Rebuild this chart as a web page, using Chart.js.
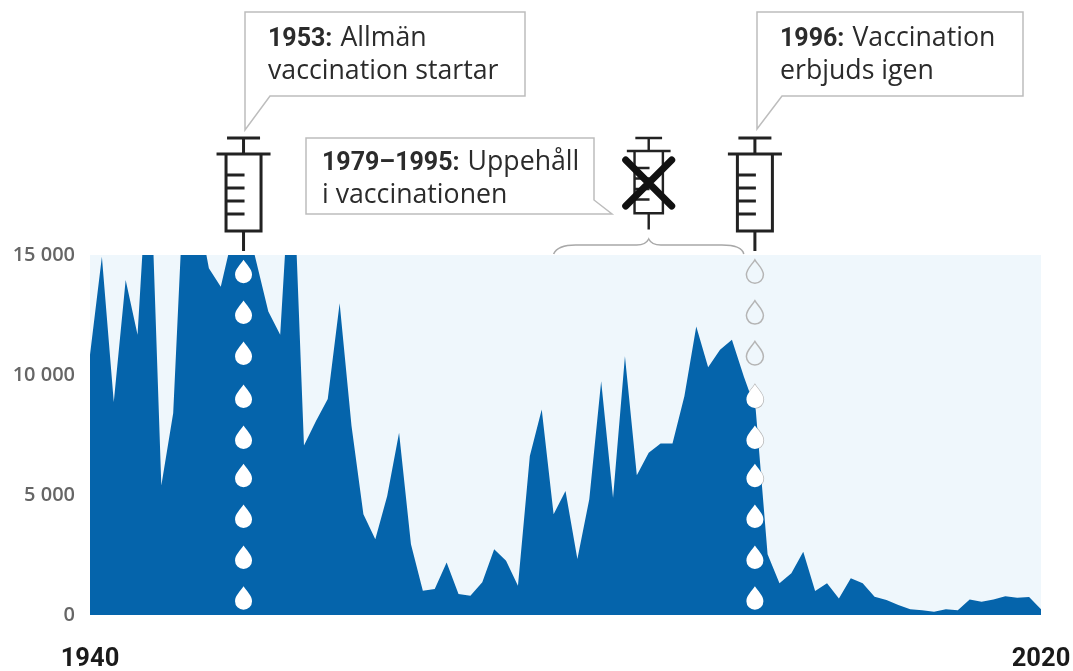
<!DOCTYPE html>
<html lang="sv">
<head>
<meta charset="utf-8">
<title>Kikhosta</title>
<script src="https://cdn.jsdelivr.net/npm/chart.js@4"></script>
<style>
  html, body { margin: 0; padding: 0; background: #fff; }
  canvas { display: block; filter: blur(0.5px); }
</style>
</head>
<body>
<canvas id="cases-chart" width="1073" height="671"></canvas>
<script>
// Data
const years = [
  1940, 1941, 1942, 1943, 1944, 1945, 1946, 1947, 1948, 1949,
  1950, 1951, 1952, 1953, 1954, 1955, 1956, 1957, 1958, 1959,
  1960, 1961, 1962, 1963, 1964, 1965, 1966, 1967, 1968, 1969,
  1970, 1971, 1972, 1973, 1974, 1975, 1976, 1977, 1978, 1979,
  1980, 1981, 1982, 1983, 1984, 1985, 1986, 1987, 1988, 1989,
  1990, 1991, 1992, 1993, 1994, 1995, 1996, 1997, 1998, 1999,
  2000, 2001, 2002, 2003, 2004, 2005, 2006, 2007, 2008, 2009,
  2010, 2011, 2012, 2013, 2014, 2015, 2016, 2017, 2018, 2019, 2020
];
const cases = [
  10840, 14930, 8880, 13960, 11680, 20000, 5400, 8420, 19000, 17100,
  14450, 13680, 15800, 16700, 14700, 12650, 11680, 20000, 7060, 8070,
  9000, 12990, 7870, 4200, 3160, 4960, 7590, 2950, 1010, 1080,
  2190, 870, 800, 1360, 2740, 2260, 1220, 6620, 8560, 4200,
  5170, 2330, 4820, 9740, 4890, 10780, 5820, 6760, 7150, 7150,
  9110, 12020, 10320, 11050, 11470, 9940, 8560, 2530, 1320, 1740,
  2640, 1000, 1320, 690, 1530, 1320, 760, 625, 420, 240,
  195, 140, 240, 195, 650, 555, 650, 780, 720, 750, 240
];
const yTicks = [0, 5000, 10000, 15000];
const xTicks = [1940, 2020];
const dropLevels = [14300, 12600, 10900, 9100, 7400, 5800, 4100, 2400, 700];
const startYear = 1953;
const pauseYears = [1979, 1995];
const restartYear = 1996;

const FONT = 'Roboto, "Noto Sans", sans-serif';
const TEXT_FONT = '"Open Sans", Roboto, sans-serif';
const BLUE = '#0564ab';
const INK = '#222';
const LINE = '#bdbdbd';

// Draws one syringe, top = y of the plunger bar, s = scale
function drawSyringe(ctx, cx, top, s) {
  ctx.save();
  ctx.translate(cx, top);
  ctx.scale(s, s);
  ctx.strokeStyle = INK;
  ctx.lineWidth = 3;
  ctx.beginPath();
  ctx.moveTo(-16.5, 0); ctx.lineTo(16.5, 0);
  ctx.moveTo(0, 0); ctx.lineTo(0, 16);
  ctx.moveTo(-27, 16); ctx.lineTo(27, 16);
  ctx.moveTo(-17.5, 16); ctx.lineTo(-17.5, 93); ctx.lineTo(17.5, 93); ctx.lineTo(17.5, 16);
  ctx.moveTo(0, 93); ctx.lineTo(0, 113);
  [37, 50, 63, 76].forEach(t => {
    ctx.moveTo(-17.5, t); ctx.lineTo(1, t);
  });
  ctx.stroke();
  ctx.restore();
}

function dropPath(ctx, x, y) {
  ctx.beginPath();
  ctx.moveTo(x, y - 12);
  ctx.bezierCurveTo(x + 3, y - 7, x + 8.5, y - 3, x + 8.5, y + 3);
  ctx.arc(x, y + 3, 8.5, 0, Math.PI);
  ctx.bezierCurveTo(x - 8.5, y - 3, x - 3, y - 7, x, y - 12);
  ctx.closePath();
}

// Callout box outline, points are the polygon corners
function drawOutline(ctx, pts) {
  ctx.strokeStyle = LINE;
  ctx.lineWidth = 1.5;
  ctx.beginPath();
  pts.forEach((p, i) => i ? ctx.lineTo(p[0], p[1]) : ctx.moveTo(p[0], p[1]));
  ctx.closePath();
  ctx.stroke();
}

function drawLabel(ctx, x, y, boldPart, rest) {
  ctx.fillStyle = '#2b2b2b';
  ctx.textBaseline = 'alphabetic';
  ctx.textAlign = 'left';
  ctx.font = 'bold 25px ' + FONT;
  ctx.fillText(boldPart, x, y);
  const w = boldPart ? ctx.measureText(boldPart).width + 8 : 0;
  ctx.font = '26.7px ' + TEXT_FONT;
  ctx.fillText(rest, x + w, y);
}

const annotations = {
  id: 'annotations',
  beforeDraw(chart) {
    const { ctx, chartArea: a } = chart;
    ctx.save();
    ctx.fillStyle = '#eff7fc';
    ctx.fillRect(a.left, a.top, a.right - a.left, a.bottom - a.top);
    ctx.restore();
  },
  // Outlined drops sit under the area so that only the part above it shows
  beforeDatasetsDraw(chart) {
    const { ctx, scales: { x, y } } = chart;
    ctx.save();
    ctx.strokeStyle = '#b5b5b5';
    ctx.lineWidth = 1.5;
    dropLevels.forEach(v => {
      dropPath(ctx, x.getPixelForValue(restartYear) - 0.8, y.getPixelForValue(v));
      ctx.stroke();
    });
    ctx.restore();
  },
  afterDatasetsDraw(chart) {
    const { ctx, chartArea: a, scales: { x, y } } = chart;
    const startX = x.getPixelForValue(startYear) - 1;
    const restartX = x.getPixelForValue(restartYear) - 0.8;
    const pauseX = x.getPixelForValue((pauseYears[0] + pauseYears[1]) / 2);
    ctx.save();

    // White drops
    ctx.fillStyle = '#fff';
    dropLevels.forEach((v, i) => {
      dropPath(ctx, startX, y.getPixelForValue(v));
      ctx.fill();
      if (i > 2) {
        dropPath(ctx, restartX, y.getPixelForValue(v));
        ctx.fill();
      }
    });

    drawSyringe(ctx, startX, 138, 1);
    drawSyringe(ctx, restartX, 138, 1);
    drawSyringe(ctx, pauseX, 138, 0.81);

    // Cross over the paused syringe
    ctx.strokeStyle = '#111';
    ctx.lineWidth = 7;
    ctx.lineCap = 'round';
    ctx.beginPath();
    ctx.moveTo(pauseX - 23, 160); ctx.lineTo(pauseX + 23, 206);
    ctx.moveTo(pauseX + 23, 160); ctx.lineTo(pauseX - 23, 206);
    ctx.stroke();
    ctx.lineCap = 'butt';

    // Callouts
    drawOutline(ctx, [[245, 12], [525, 12], [525, 96], [270, 96], [245, 130]]);
    drawOutline(ctx, [[757, 12], [1023, 12], [1023, 96], [782, 96], [757, 129]]);
    drawOutline(ctx, [[306, 138], [594, 138], [594, 200], [612, 214], [306, 214]]);

    drawLabel(ctx, 268, 46, '1953:', 'Allmän');
    drawLabel(ctx, 268, 79, '', 'vaccination startar');
    drawLabel(ctx, 780, 46, '1996:', 'Vaccination');
    drawLabel(ctx, 780, 79, '', 'erbjuds igen');
    drawLabel(ctx, 322, 170, '1979–1995:', 'Uppehåll');
    drawLabel(ctx, 322, 203, '', 'i vaccinationen');

    // Brace over the pause years
    const bl = x.getPixelForValue(pauseYears[0]);
    const br = x.getPixelForValue(pauseYears[1]);
    ctx.strokeStyle = '#a8a8a8';
    ctx.lineWidth = 1.5;
    ctx.beginPath();
    ctx.moveTo(bl, a.top - 1);
    ctx.quadraticCurveTo(bl + 4, a.top - 10, bl + 22, a.top - 10);
    ctx.lineTo(pauseX - 12, a.top - 10);
    ctx.quadraticCurveTo(pauseX - 3, a.top - 10, pauseX, a.top - 16);
    ctx.quadraticCurveTo(pauseX + 3, a.top - 10, pauseX + 12, a.top - 10);
    ctx.lineTo(br - 22, a.top - 10);
    ctx.quadraticCurveTo(br - 2, a.top - 10, br, a.top - 1);
    ctx.stroke();
    ctx.restore();
  }
};

new Chart(document.getElementById('cases-chart').getContext('2d'), {
  type: 'line',
  data: {
    datasets: [{
      data: years.map((yr, i) => ({ x: yr, y: cases[i] })),
      backgroundColor: BLUE,
      borderWidth: 0,
      pointRadius: 0,
      tension: 0,
      fill: 'origin'
    }]
  },
  options: {
    responsive: false,
    animation: false,
    layout: { padding: { top: 255, right: 32, left: 0, bottom: 0 } },
    plugins: { legend: { display: false }, tooltip: { enabled: false } },
    scales: {
      x: {
        type: 'linear',
        min: xTicks[0],
        max: xTicks[1],
        afterBuildTicks: scale => { scale.ticks = xTicks.map(v => ({ value: v })); },
        afterFit: scale => { scale.height = 56; scale.paddingLeft = 0; scale.paddingRight = 0; },
        grid: { display: false, drawTicks: false },
        border: { display: false },
        ticks: {
          autoSkip: false,
          maxRotation: 0,
          padding: 29,
          color: '#1a1a1a',
          font: { family: FONT, size: 25.5, weight: 'bold' },
          callback: v => String(v)
        }
      },
      y: {
        min: yTicks[0],
        max: yTicks[yTicks.length - 1],
        afterBuildTicks: scale => { scale.ticks = yTicks.map(v => ({ value: v })); },
        afterFit: scale => { scale.width = 90; scale.paddingTop = 0; scale.paddingBottom = 0; },
        grid: { display: false, drawTicks: false },
        border: { display: false },
        ticks: {
          padding: 15,
          color: '#666',
          font: { family: TEXT_FONT, size: 20, weight: '600' },
          callback: v => String(v).replace(/\B(?=(\d{3})+$)/g, ' ')
        }
      }
    }
  },
  plugins: [annotations]
});
</script>
</body>
</html>
